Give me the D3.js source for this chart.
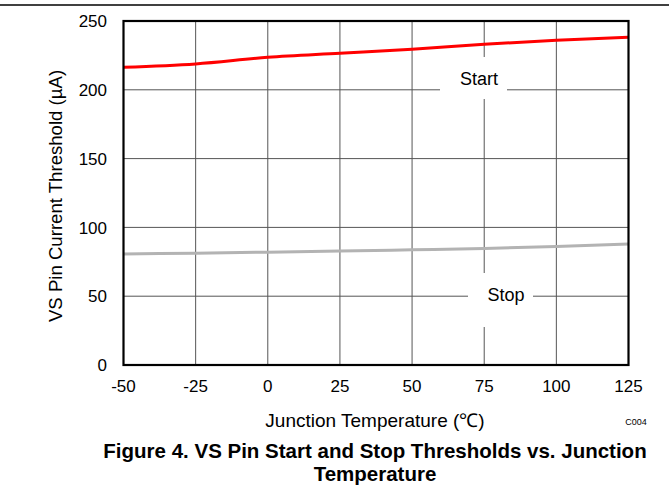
<!DOCTYPE html>
<html>
<head>
<meta charset="utf-8">
<script src="https://cdn.jsdelivr.net/npm/d3@7"></script>
<style>
  html, body { margin: 0; padding: 0; background: #fff; }
  svg { display: block; }
  text { font-family: "Liberation Sans", Arial, sans-serif; fill: #000; }
</style>
</head>
<body>
<svg id="chart" width="669" height="490"></svg>
<script>
// ---- data ----
const temperatures = [-50, -25, 0, 25, 50, 75, 100, 125];
const startThreshold = [216.4, 218.8, 223.6, 226.5, 229.4, 233.1, 236.0, 238.2];
const stopThreshold = [80.6, 81.3, 82.0, 82.8, 83.7, 84.7, 86.1, 88.0];
const xTicks = [-50, -25, 0, 25, 50, 75, 100, 125];
const yTicks = [0, 50, 100, 150, 200, 250];
const seriesNames = ["Start", "Stop"];
const xTitle = "Junction Temperature (\u2103)";
const yTitle = "VS Pin Current Threshold (\u00b5A)";
const captionLines = ["Figure 4. VS Pin Start and Stop Thresholds vs. Junction", "Temperature"];
const codeLabel = "C004";

// ---- layout ----
const W = 669, H = 490;
const plot = { left: 123.5, right: 628.5, top: 21, bottom: 365 };

const svg = d3.select("#chart");

const x = d3.scaleLinear().domain([-50, 125]).range([plot.left, plot.right]);
const y = d3.scaleLinear().domain([0, 250]).range([plot.bottom, plot.top]);

// top rule
svg.append("line")
  .attr("x1", 0).attr("x2", W).attr("y1", 5).attr("y2", 5)
  .attr("stroke", "#000").attr("stroke-width", 1.5);

// grid
const grid = svg.append("g");
grid.selectAll("line.v").data(xTicks.slice(1, -1)).join("line")
  .attr("x1", d => x(d)).attr("x2", d => x(d))
  .attr("y1", plot.top).attr("y2", plot.bottom)
  .attr("stroke", "#555").attr("stroke-width", 1);
grid.selectAll("line.h").data(yTicks.slice(1, -1)).join("line")
  .attr("y1", d => y(d)).attr("y2", d => y(d))
  .attr("x1", plot.left).attr("x2", plot.right)
  .attr("stroke", "#555").attr("stroke-width", 1);

// series labels with white masks over the grid
const labels = [
  { name: seriesNames[0], cx: 479, base: 85, box: [440, 57, 507, 99] },
  { name: seriesNames[1], cx: 506, base: 301, box: [468, 273, 533, 327] }
];
labels.forEach(l => {
  svg.append("rect")
    .attr("x", l.box[0]).attr("y", l.box[1])
    .attr("width", l.box[2] - l.box[0]).attr("height", l.box[3] - l.box[1])
    .attr("fill", "#fff");
  svg.append("text")
    .attr("x", l.cx).attr("y", l.base)
    .attr("text-anchor", "middle")
    .style("font-size", "18px")
    .text(l.name);
});

// series lines
const line = d3.line()
  .x((d, i) => x(temperatures[i]))
  .y(d => y(d))
  .curve(d3.curveMonotoneX);

svg.append("path").datum(stopThreshold)
  .attr("d", line).attr("fill", "none")
  .attr("stroke", "#b3b3b3").attr("stroke-width", 3);
svg.append("path").datum(startThreshold)
  .attr("d", line).attr("fill", "none")
  .attr("stroke", "#ff0000").attr("stroke-width", 3);

// frame
svg.append("rect")
  .attr("x", plot.left).attr("y", plot.top)
  .attr("width", plot.right - plot.left).attr("height", plot.bottom - plot.top)
  .attr("fill", "none").attr("stroke", "#000").attr("stroke-width", 2.2);

// y tick labels
svg.append("g").selectAll("text").data(yTicks).join("text")
  .attr("x", 107).attr("y", d => y(d))
  .attr("dy", "0.36em")
  .attr("text-anchor", "end")
  .style("font-size", "17px")
  .text(d => d);

// x tick labels
svg.append("g").selectAll("text").data(xTicks).join("text")
  .attr("x", d => x(d)).attr("y", 392)
  .attr("text-anchor", "middle")
  .style("font-size", "17px")
  .text(d => d);

// axis titles
svg.append("text")
  .attr("x", 375).attr("y", 427)
  .attr("text-anchor", "middle")
  .style("font-size", "19px")
  .text(xTitle);

svg.append("text")
  .attr("transform", `translate(62, ${(plot.top + plot.bottom) / 2 + 3}) rotate(-90)`)
  .attr("text-anchor", "middle")
  .style("font-size", "18.6px")
  .text(yTitle);

// code label
svg.append("text")
  .attr("x", 636).attr("y", 425)
  .attr("text-anchor", "middle")
  .style("font-size", "9px")
  .text(codeLabel);

// caption
svg.append("g").selectAll("text").data(captionLines).join("text")
  .attr("x", 375).attr("y", (d, i) => 458 + i * 23)
  .attr("text-anchor", "middle")
  .style("font-size", "20.5px")
  .style("font-weight", "bold")
  .text(d => d);
</script>
</body>
</html>
